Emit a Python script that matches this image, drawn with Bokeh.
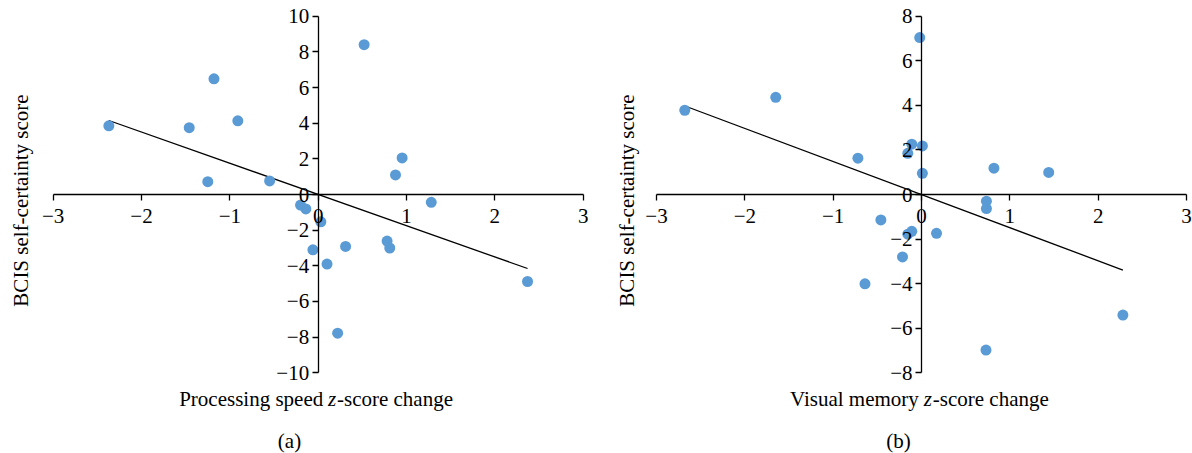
import math
from bokeh.plotting import figure
from bokeh.models import Range1d, FixedTicker, Label
from bokeh.layouts import row
from bokeh.embed import file_html
from bokeh.resources import INLINE

# ---------------- data: panel (a) ----------------
a_x = [-2.37, -1.46, -1.18, -0.91, -1.25, -0.55, 0.52, 0.95, 0.875, 1.28,
       -0.20, -0.14, 0.03, -0.06, 0.10, 0.22, 0.31, 0.78, 0.81, 2.37]
a_y = [3.85, 3.75, 6.49, 4.13, 0.72, 0.76, 8.40, 2.05, 1.10, -0.44,
       -0.59, -0.81, -1.53, -3.10, -3.90, -7.78, -2.91, -2.61, -3.00, -4.88]
a_trend_x = [-2.37, 2.37]
a_trend_y = [4.15, -4.15]
a_xticks = [-3, -2, -1, 0, 1, 2, 3]
a_xtick_labels = ["\u22123", "\u22122", "\u22121", "0", "1", "2", "3"]
a_yticks = [-10, -8, -6, -4, -2, 0, 2, 4, 6, 8, 10]
a_ytick_labels = ["\u221210", "\u22128", "\u22126", "\u22124", "\u22122", "0", "2", "4", "6", "8", "10"]
a_xlabel = ["Processing speed", "z", "-score change"]
a_letter = "(a)"

# ---------------- data: panel (b) ----------------
b_x = [-2.68, -1.65, -0.72, -0.02, -0.11, -0.155, 0.01, 0.01, 0.82, 1.44,
       -0.46, -0.11, -0.155, -0.215, -0.64, 0.735, 0.735, 0.17, 2.28, 0.73]
b_y = [3.78, 4.36, 1.63, 7.04, 2.26, 1.85, 2.18, 0.95, 1.18, 0.99,
       -1.14, -1.65, -1.78, -2.80, -4.01, -0.30, -0.63, -1.74, -5.41, -6.98]
b_trend_x = [-2.67, 2.28]
b_trend_y = [3.96, -3.39]
b_xticks = [-3, -2, -1, 0, 1, 2, 3]
b_xtick_labels = ["\u22123", "\u22122", "\u22121", "0", "1", "2", "3"]
b_yticks = [-8, -6, -4, -2, 0, 2, 4, 6, 8]
b_ytick_labels = ["\u22128", "\u22126", "\u22124", "\u22122", "0", "2", "4", "6", "8"]
b_xlabel = ["Visual memory", "z", "-score change"]
b_letter = "(b)"

ylabel = "BCIS self-certainty score"

FONT = "Liberation Serif"
DOT = "#5B9BD5"
H = 453


def span_range(lo, hi, p_lo, p_hi, size):
    """Range so that data lo..hi sits at pixels p_lo..p_hi of a canvas of given size."""
    s = (p_hi - p_lo) / (hi - lo)
    return Range1d(lo - p_lo / s, hi + (size - p_hi) / s)


def make_panel(xs, ys, tx, ty, xticks, xlabels, yticks, ylabels, xlab, letter,
               width, px_lo, px_hi, lab_off, ylab_off, letter_off):
    ylo, yhi = yticks[0], yticks[-1]
    py_top, py_bot = 15.7, 372.3
    p = figure(width=width, height=H, output_backend="svg", toolbar_location=None,
               x_range=span_range(xticks[0], xticks[-1], px_lo, px_hi, width),
               y_range=span_range(ylo, yhi, H - py_bot, H - py_top, H),
               min_border=0, min_border_left=0, min_border_right=0,
               min_border_top=0, min_border_bottom=0)
    p.outline_line_color = None
    p.grid.visible = False
    p.background_fill_color = "white"
    p.border_fill_color = "white"

    for ax in (p.xaxis[0], p.yaxis[0]):
        ax.fixed_location = 0
        ax.axis_line_color = "black"
        ax.axis_line_width = 1.3
        ax.major_tick_line_color = "black"
        ax.major_tick_line_width = 1.3
        ax.major_tick_in = 0
        ax.major_tick_out = 6
        ax.minor_tick_in = 0
        ax.minor_tick_out = 0
        ax.major_label_text_font = FONT
        ax.major_label_text_font_size = "21px"
        ax.major_label_text_color = "black"
    p.xaxis[0].ticker = FixedTicker(ticks=xticks)
    p.xaxis[0].bounds = (xticks[0], xticks[-1])
    p.xaxis[0].major_label_overrides = {t: l for t, l in zip(xticks, xlabels)}
    p.xaxis[0].major_label_standoff = 8
    p.yaxis[0].ticker = FixedTicker(ticks=yticks)
    p.yaxis[0].bounds = (ylo, yhi)
    p.yaxis[0].major_label_overrides = {t: l for t, l in zip(yticks, ylabels)}
    p.yaxis[0].major_label_standoff = 3

    p.line(tx, ty, line_color="black", line_width=1.3)
    p.scatter(xs, ys, size=11, fill_color=DOT, line_color=None)

    # x-axis title (three pieces for the italic z)
    common = dict(x=0, y=ylo, y_offset=-26, text_font=FONT, text_font_size="21px",
                  text_color="black", text_baseline="alphabetic")
    p.add_layout(Label(text=xlab[0], x_offset=lab_off[0], text_align="right", **common))
    p.add_layout(Label(text=xlab[1], x_offset=lab_off[1], text_align="left",
                       text_font_style="italic", **common))
    p.add_layout(Label(text=xlab[2], x_offset=lab_off[2], text_align="left", **common))
    # panel letter
    p.add_layout(Label(text=letter, x=0, y=ylo, x_offset=letter_off, y_offset=-68,
                       text_align="center", text_baseline="alphabetic", text_font=FONT,
                       text_font_size="21px", text_color="black"))
    # y-axis title
    p.add_layout(Label(text=ylabel, x=xticks[0], y=0, x_offset=ylab_off, y_offset=-6,
                       angle=math.pi / 2, text_align="center", text_baseline="middle",
                       text_font=FONT, text_font_size="21px", text_color="black"))
    return p


pa = make_panel(a_x, a_y, a_trend_x, a_trend_y, a_xticks, a_xtick_labels, a_yticks,
                a_ytick_labels, a_xlabel, a_letter, 604, 52.7, 582.7,
                (5.0, 9.8, 18.8), -32.7, -28.7)
pb = make_panel(b_x, b_y, b_trend_x, b_trend_y, b_xticks, b_xtick_labels, b_yticks,
                b_ytick_labels, b_xlabel, b_letter, 588, 52, 582,
                (-2.7, 2.3, 11.3), -29.5, -23)

layout = row(pa, pb)
open("out.html", "w").write(file_html(layout, INLINE))
